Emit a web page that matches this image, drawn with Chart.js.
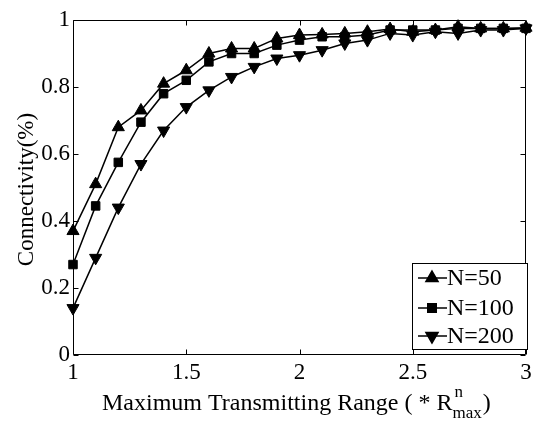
<!DOCTYPE html>
<html>
<head>
<meta charset="utf-8">
<script src="https://cdn.jsdelivr.net/npm/chart.js@4/dist/chart.umd.min.js"></script>
<style>
  html, body { margin: 0; padding: 0; background: #fff; }
  #wrap { width: 534px; height: 421px; }
</style>
</head>
<body>
<div id="wrap"><canvas id="conn-chart" width="534" height="421"></canvas></div>
<script>
// === Connectivity vs. maximum transmitting range ===

var rangeValues = [1.0, 1.1, 1.2, 1.3, 1.4, 1.5, 1.6, 1.7, 1.8, 1.9, 2.0,
                   2.1, 2.2, 2.3, 2.4, 2.5, 2.6, 2.7, 2.8, 2.9, 3.0];
var conn50  = [0.37, 0.51, 0.68, 0.73, 0.81, 0.85, 0.90, 0.915, 0.915, 0.945, 0.955,
               0.957, 0.96, 0.965, 0.973, 0.965, 0.97, 0.98, 0.975, 0.975, 0.977];
var conn100 = [0.27, 0.445, 0.575, 0.695, 0.78, 0.82, 0.875, 0.90, 0.90, 0.925, 0.94,
               0.95, 0.95, 0.955, 0.97, 0.97, 0.97, 0.975, 0.975, 0.975, 0.975];
var conn200 = [0.14, 0.29, 0.44, 0.57, 0.67, 0.74, 0.79, 0.83, 0.86, 0.885, 0.895,
               0.91, 0.93, 0.94, 0.96, 0.955, 0.965, 0.96, 0.97, 0.97, 0.975];
var seriesLabels = ['N=50', 'N=100', 'N=200'];
var xTicks = [1, 1.5, 2, 2.5, 3];
var yTicks = [0, 0.2, 0.4, 0.6, 0.8, 1];

var FONT = '"Liberation Serif", "Times New Roman", serif';

function toPoints(ys) {
  return ys.map(function(y, i) { return { x: rangeValues[i], y: y }; });
}

function plainNumber(v) {
  return String(parseFloat(v.toFixed(2)));
}

function seriesStyle(label, data, style, rotation, radius) {
  return {
    label: label,
    data: toPoints(data),
    borderColor: '#000',
    backgroundColor: '#000',
    borderWidth: 1.5,
    pointStyle: style,
    pointRotation: rotation,
    pointRadius: radius,
    pointBorderWidth: 1,
    tension: 0,
    clip: false
  };
}

// frame with inward ticks on all four sides, plus axis titles
var framePlugin = {
  id: 'framePlugin',
  beforeDatasetsDraw: function(chart) {
    var ctx = chart.ctx, a = chart.chartArea;
    var xs = chart.scales.x, ys = chart.scales.y;
    var L = Math.round(a.left) + 0.5, R = Math.round(a.right) - 0.5;
    var T = Math.round(a.top) + 0.5, B = Math.round(a.bottom) - 0.5;
    ctx.save();
    ctx.strokeStyle = '#000';
    ctx.lineWidth = 1;
    ctx.beginPath();
    ctx.rect(L, T, R - L, B - T);
    xTicks.forEach(function(v) {
      var px = Math.round(xs.getPixelForValue(v)) + 0.5;
      ctx.moveTo(px, B); ctx.lineTo(px, B - 5);
      ctx.moveTo(px, T); ctx.lineTo(px, T + 5);
    });
    yTicks.forEach(function(v) {
      var py = Math.round(ys.getPixelForValue(v)) + 0.5;
      ctx.moveTo(L, py); ctx.lineTo(L + 5, py);
      ctx.moveTo(R, py); ctx.lineTo(R - 5, py);
    });
    ctx.stroke();

    // y title
    ctx.fillStyle = '#000';
    ctx.font = '23px ' + FONT;
    ctx.textAlign = 'center';
    ctx.textBaseline = 'alphabetic';
    ctx.translate(33, (a.top + a.bottom) / 2 + 2);
    ctx.rotate(-Math.PI / 2);
    ctx.fillText('Connectivity(%)', 0, 0);
    ctx.restore();

    // x title with R^n_max
    ctx.save();
    ctx.fillStyle = '#000';
    ctx.textAlign = 'left';
    ctx.textBaseline = 'alphabetic';
    var x = 102, base = 410;
    ctx.font = '24px ' + FONT;
    var main = 'Maximum Transmitting Range ( * R';
    ctx.fillText(main, x, base);
    x += ctx.measureText(main).width;
    ctx.font = '17px ' + FONT;
    ctx.fillText('n', x + 2, base - 13);
    ctx.fillText('max', x, base + 8);
    var subW = ctx.measureText('max').width;
    ctx.font = '24px ' + FONT;
    ctx.fillText(')', x + subW + 1, base);
    ctx.restore();
  }
};

// legend box inside the lower right corner
var legendBox = {
  id: 'legendBox',
  afterDatasetsDraw: function(chart) {
    var ctx = chart.ctx;
    var bx = 412.5, by = 263.5, bw = 115, bh = 86;
    var rows = [278, 308, 336];
    ctx.save();
    ctx.fillStyle = '#fff';
    ctx.fillRect(bx, by, bw, bh);
    ctx.strokeStyle = '#000';
    ctx.lineWidth = 1;
    ctx.strokeRect(bx, by, bw, bh);
    ctx.font = '24px ' + FONT;
    ctx.textAlign = 'left';
    ctx.textBaseline = 'middle';
    chart.data.datasets.forEach(function(ds, i) {
      var y = rows[i];
      ctx.strokeStyle = '#000';
      ctx.lineWidth = 1.5;
      ctx.beginPath();
      ctx.moveTo(418, y); ctx.lineTo(447, y);
      ctx.stroke();
      ctx.fillStyle = '#000';
      Chart.helpers.drawPoint(ctx, {
        pointStyle: ds.pointStyle,
        rotation: ds.pointRotation,
        radius: ds.pointRadius,
        borderWidth: 1
      }, 432, y);
      ctx.fillStyle = '#000';
      ctx.fillText(ds.label, 447, y + 1);
    });
    ctx.restore();
  }
};

new Chart(document.getElementById('conn-chart').getContext('2d'), {
  type: 'line',
  data: {
    datasets: [
      seriesStyle(seriesLabels[0], conn50, 'triangle', 0, 7),
      seriesStyle(seriesLabels[1], conn100, 'rect', 0, 6),
      seriesStyle(seriesLabels[2], conn200, 'triangle', 180, 7)
    ]
  },
  options: {
    responsive: false,
    animation: false,
    layout: { padding: { top: 20, right: 6, left: 0, bottom: 0 } },
    plugins: {
      legend: { display: false },
      tooltip: { enabled: false }
    },
    scales: {
      x: {
        type: 'linear',
        min: 1,
        max: 3,
        afterBuildTicks: function(scale) {
          scale.ticks = xTicks.map(function(v) { return { value: v }; });
        },
        afterFit: function(scale) {
          scale.height = 66;
          scale.paddingRight = 0;
          scale.paddingLeft = 0;
        },
        grid: { display: false, drawTicks: false },
        border: { display: false },
        ticks: {
          color: '#000',
          padding: 4,
          maxRotation: 0,
          font: { family: FONT, size: 23 },
          callback: plainNumber
        }
      },
      y: {
        min: 0,
        max: 1,
        afterBuildTicks: function(scale) {
          scale.ticks = yTicks.map(function(v) { return { value: v }; });
        },
        afterFit: function(scale) { scale.width = 73; },
        grid: { display: false, drawTicks: false },
        border: { display: false },
        ticks: {
          color: '#000',
          padding: 3,
          font: { family: FONT, size: 23 },
          callback: plainNumber
        }
      }
    }
  },
  plugins: [framePlugin, legendBox]
});
</script>
</body>
</html>
